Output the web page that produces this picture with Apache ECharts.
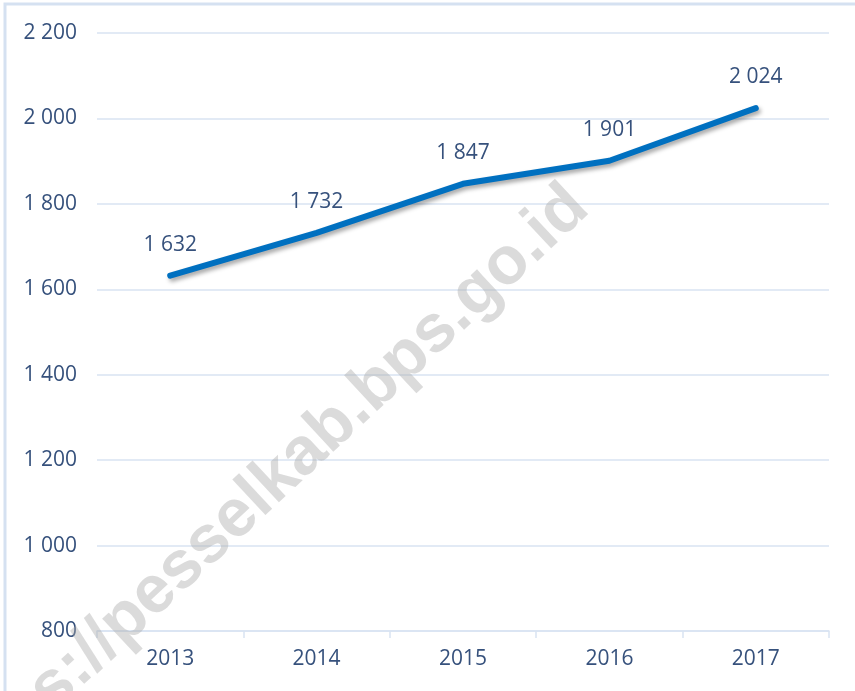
<!DOCTYPE html>
<html>
<head>
<meta charset="utf-8">
<script src="https://cdn.jsdelivr.net/npm/echarts@6/dist/echarts.min.js"></script>
<style>
html,body{margin:0;padding:0;background:#fff;}
#main{width:855px;height:691px;}
</style>
</head>
<body>
<div id="main"></div>
<script>
// data
var years=["2013","2014","2015","2016","2017"];
var values=[1632,1732,1847,1901,2024];
var yTicks=[800,1000,1200,1400,1600,1800,2000,2200];

var txtColor="#36517c";
var gridColor="#d9e3f2";

// "2 200" style numbers
function fmt(v)
{
    var s=String(v);
    if(s.length>3) s=s.slice(0,s.length-3)+" "+s.slice(s.length-3);
    return s;
}

var myChart=echarts.init(document.getElementById("main"));

var option={
    backgroundColor:"#fff",
    animation:false,
    grid:{left:97,right:26,top:33,bottom:60,containLabel:false},
    xAxis:{
        type:"category",
        data:years,
        boundaryGap:true,
        axisLine:{lineStyle:{color:gridColor,width:1.5}},
        axisTick:{show:true,length:7,lineStyle:{color:gridColor,width:1.5}},
        axisLabel:{color:txtColor,fontFamily:"Open Sans",fontSize:21,margin:18}
    },
    yAxis:{
        type:"value",
        min:yTicks[0],
        max:yTicks[yTicks.length-1],
        interval:200,
        axisLine:{show:false},
        axisTick:{show:false},
        splitLine:{lineStyle:{color:gridColor,width:1.5}},
        axisLabel:{color:txtColor,fontFamily:"Open Sans",fontSize:21,margin:20,formatter:fmt}
    },
    series:[{
        type:"line",
        data:values,
        symbol:"circle",
        symbolSize:1,
        showSymbol:true,
        itemStyle:{color:"#0070c0",opacity:0},
        z:5,
        lineStyle:{
            color:"#0070c0",width:6,cap:"round",join:"round",
            shadowColor:"rgba(0,0,0,0.35)",shadowBlur:4,shadowOffsetX:2,shadowOffsetY:3
        },
        label:{
            show:true,position:"top",distance:20,
            color:txtColor,fontFamily:"Open Sans",fontSize:21,opacity:1,
            formatter:function(p){return fmt(p.value);}
        }
    }],
    graphic:[
        {
            type:"rect",z:-1,silent:true,
            shape:{x:5,y:4,width:900,height:800},
            style:{fill:null,stroke:"#d5e1f1",lineWidth:3}
        },
        {
            type:"text",z:100,silent:true,
            x:263,y:492,
            rotation:43*Math.PI/180,
            style:{
                text:"https://pesselkab.bps.go.id",
                fontFamily:"Liberation Sans",fontWeight:"bold",fontSize:67,
                fill:"rgba(170,170,170,0.42)",
                align:"center",verticalAlign:"middle"
            }
        }
    ]
};
myChart.setOption(option);
</script>
</body>
</html>
